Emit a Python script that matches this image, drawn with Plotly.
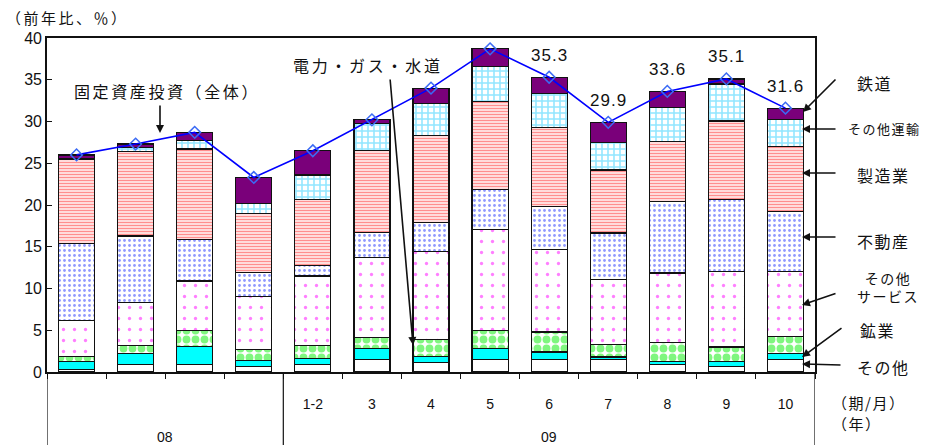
import plotly.graph_objects as go

# ---- data -------------------------------------------------------------
months = ["", "", "", "", "1-2", "3", "4", "5", "6", "7", "8", "9", "10"]
years = ["08", "09"]

sonota = [0.3, 0.9, 0.9, 0.7, 0.9, 1.5, 1.1, 1.5, 1.5, 1.5, 0.9, 0.7, 1.5]          # その他
kougyou = [1.0, 1.3, 2.2, 0.7, 0.7, 1.3, 0.8, 1.3, 0.9, 0.3, 0.4, 0.6, 0.7]         # 鉱業
denryoku = [0.55, 1.0, 1.9, 1.3, 1.6, 1.3, 2.0, 2.2, 2.4, 1.5, 2.2, 1.7, 2.1]       # 電力・ガス・水道
service = [4.3, 5.1, 5.9, 6.3, 8.3, 9.6, 10.55, 12.1, 9.85, 7.75, 8.35, 9.0, 7.7]   # その他サービス
fudousan = [9.2, 8.0, 5.0, 2.9, 1.3, 3.0, 3.5, 4.8, 5.2, 5.6, 8.55, 8.65, 7.2]      # 不動産
seizou = [10.1, 10.1, 10.8, 7.1, 7.9, 9.8, 10.4, 10.5, 9.4, 7.55, 7.2, 9.4, 7.85]   # 製造業
unyu = [0.05, 0.45, 1.0, 1.2, 2.9, 3.3, 3.8, 4.2, 4.15, 3.3, 4.1, 4.45, 3.15]       # その他運輸
tetsudo = [0.5, 0.45, 1.0, 3.1, 2.9, 0.4, 1.85, 2.1, 1.9, 2.4, 1.9, 0.6, 1.4]       # 鉄道
total = [26.0, 27.3, 28.7, 23.3, 26.5, 30.2, 34.0, 38.7, 35.3, 29.9, 33.6, 35.1, 31.6]  # 固定資産投資（全体）
labelled = [8, 9, 10, 11, 12]

x = list(range(len(total)))

CJK = "Noto Sans CJK JP"
NUM = "Liberation Sans"

W, H = 927, 445
ML, MR, MT, MB = 47, 112, 38, 73
PW, PH = W - ML - MR, H - MT - MB


def px(xp):
    return (xp - ML) / PW


def py(yp):
    return (MT + PH - yp) / PH


def spaced(s, gap):
    # wider character spacing for the CJK captions
    return f'<span style="letter-spacing:{gap}px">{s}</span>'


# ---- stacked bars -----------------------------------------------------
series = [
    ("その他", sonota, dict(color="white")),
    ("鉱業", kougyou, dict(color="#00FFFF")),
    ("電力・ガス・水道", denryoku,
     dict(color="white", pattern=dict(shape=".", fgcolor="#00EE00", bgcolor="white",
                                      size=9, solidity=0.6))),
    ("その他サービス", service,
     dict(color="white", pattern=dict(shape=".", fgcolor="#FF00FF", bgcolor="white",
                                      size=11, solidity=0.07))),
    ("不動産", fudousan,
     dict(color="white", pattern=dict(shape=".", fgcolor="#2233FF", bgcolor="white",
                                      size=5, solidity=0.24))),
    ("製造業", seizou,
     dict(color="white", pattern=dict(shape="-", fgcolor="#FF2020", bgcolor="white",
                                      size=3, solidity=0.55))),
    ("その他運輸", unyu,
     dict(color="white", pattern=dict(shape="+", fgcolor="#22CCFF", bgcolor="white",
                                      size=6, solidity=0.45))),
    ("鉄道", tetsudo, dict(color="#7A007A")),
]

fig = go.Figure()
for name, vals, mk in series:
    mk = dict(mk)
    mk["line"] = dict(color="#111111", width=1.2)
    fig.add_trace(go.Bar(x=x, y=vals, name=name, marker=mk, width=0.61,
                         hoverinfo="y+name"))

fig.add_trace(go.Scatter(
    x=x, y=total, mode="lines+markers", name="固定資産投資（全体）",
    line=dict(color="#0000FF", width=1.6),
    marker=dict(symbol="diamond-open", size=9, color="#3B6BF5",
                line=dict(width=1.5, color="#3B6BF5")),
))

# ---- annotations ------------------------------------------------------
ann = []

for i in labelled:
    ann.append(dict(x=i, y=total[i], xref="x", yref="y",
                    text=spaced(f"{total[i]:.1f}", 1),
                    showarrow=False, yshift=22,
                    font=dict(family=NUM, size=17, color="#111111")))


def text(xp, yp, s, size, anchor="left", family=CJK, gap=2):
    ann.append(dict(x=px(xp), y=py(yp), xref="paper", yref="paper",
                    text=spaced(s, gap) if gap else s,
                    showarrow=False, xanchor=anchor, yanchor="middle",
                    font=dict(family=family, size=size, color="#111111")))


def arrow(tail, tip):
    ann.append(dict(x=px(tip[0]), y=py(tip[1]), xref="paper", yref="paper",
                    ax=tail[0] - tip[0], ay=tail[1] - tip[1], text="",
                    showarrow=True, arrowhead=2, arrowsize=1, arrowwidth=1.6,
                    arrowcolor="#111111"))


text(4, 18, "（前年比、％）", 15, gap=2.5)
text(167, 91, "固定資産投資（全体）", 16, "center", gap=2.6)
arrow((160, 104), (160, 133))
text(368, 65, "電力・ガス・水道", 16, "center", gap=2.7)
arrow((390, 78), (413, 345))

text(855, 83, "鉄道", 16, gap=1.5)
arrow((837, 78), (803, 112))
text(846, 128, "その他運輸", 13, gap=1.5)
arrow((837, 129), (802, 129))
text(855, 175, "製造業", 16, gap=1.5)
arrow((837, 173), (802, 173))
text(855, 241, "不動産", 16, gap=1.5)
arrow((837, 237), (802, 237))
text(855, 287, "その他<br>サービス", 14, gap=1.5)
arrow((837, 293), (802, 305))
text(858, 330, "鉱業", 16, gap=1.5)
arrow((843, 327), (802, 357))
text(855, 367, "その他", 16, gap=1.5)
arrow((842, 365), (802, 364))

text(830, 403, "（期/月）", 15, gap=1.5)
text(830, 423, "（年）", 15, gap=1.5)

for xv, lab in ((1.5, years[0]), (8, years[1])):
    ann.append(dict(x=xv, y=py(437), xref="x", yref="paper", text=lab,
                    showarrow=False, yanchor="middle",
                    font=dict(family=NUM, size=14, color="#111111")))

# table lines under the axis
shapes = []
for xv in (-0.5, 3.5, 12.5):
    shapes.append(dict(type="line", xref="x", yref="paper", x0=xv, x1=xv,
                       y0=0, y1=py(H), line=dict(color="#111111", width=1.2)))

fig.update_layout(
    width=W, height=H,
    margin=dict(l=ML, r=MR, t=MT, b=MB, pad=0),
    barmode="stack", showlegend=False,
    plot_bgcolor="white", paper_bgcolor="white",
    annotations=ann, shapes=shapes,
    xaxis=dict(range=[-0.5, 12.5], tickvals=x, ticktext=months, ticks="",
               tickfont=dict(family=NUM, size=14, color="#111111"),
               ticklabelstandoff=18,
               minor=dict(tickvals=[i - 0.5 for i in range(14)], ticks="outside",
                          ticklen=5, tickcolor="#111111", tickwidth=1),
               showline=True, mirror=True, linecolor="#111111", linewidth=1.6,
               showgrid=False, zeroline=False, fixedrange=True),
    yaxis=dict(range=[0, 40], dtick=5, ticks="inside", ticklen=5,
               tickcolor="#111111",
               tickfont=dict(family=NUM, size=16, color="#111111"),
               showline=True, mirror=True, linecolor="#111111", linewidth=1.6,
               showgrid=False, zeroline=False, fixedrange=True),
)

fig.write_html("out.html")
